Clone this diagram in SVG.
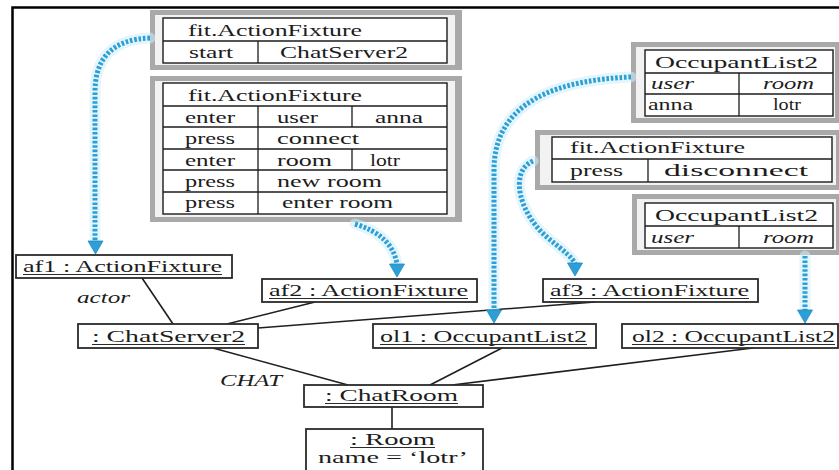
<svg xmlns="http://www.w3.org/2000/svg" width="839" height="470" viewBox="0 0 839 470" font-family="'Liberation Serif', 'Times New Roman', serif">
  <style>
    text { font-family: "Liberation Serif", "Times New Roman", serif; font-size: 16px; fill: #1c1c1c; }
    .it { font-style: italic; }
    .frame-out { fill: #a9a9a9; }
    .frame-in { fill: #f2f2f2; }
    .tbl { fill: #ffffff; stroke: #1c1c1c; stroke-width: 1.4; }
    .cell { stroke: #1c1c1c; stroke-width: 1.3; fill: none; }
    .obj { fill: #ffffff; stroke: #2a2a2a; stroke-width: 1.8; }
    .ul { stroke: #2a2a2a; stroke-width: 1; }
    .link { stroke: #1f1f1f; stroke-width: 1.6; fill: none; }
    .halo { stroke: #cdeef8; stroke-width: 11; fill: none; opacity: 0.55; stroke-linecap: round; }
    .dots { stroke: #2b9fd6; stroke-width: 5; fill: none; stroke-dasharray: 2.6 1.8; }
    .head { fill: #2b9fd6; stroke: #238cc0; stroke-width: 0.8; }
  </style>

  <rect width="839" height="470" fill="#ffffff"/>
  <!-- page border -->
  <path d="M12.5,470 V7.5 H839" fill="none" stroke="#000" stroke-width="2.5"/>

  <!-- fixture table: start ChatServer2 -->
  <g id="table-start">
    <rect class="frame-out" x="150" y="10" width="312" height="60"/>
    <rect class="frame-in" x="155" y="15" width="300" height="50"/>
    <rect class="tbl" x="163" y="18" width="284" height="45"/>
    <path class="cell" d="M163,41 H447 M258,41 V63"/>
    <text x="188" y="36" textLength="174" lengthAdjust="spacingAndGlyphs">fit.ActionFixture</text>
    <text x="189" y="58" textLength="44" lengthAdjust="spacingAndGlyphs">start</text>
    <text x="280" y="58" textLength="128" lengthAdjust="spacingAndGlyphs">ChatServer2</text>
  </g>

  <!-- fixture table: user session -->
  <g id="table-session">
    <rect class="frame-out" x="150" y="76" width="312" height="146"/>
    <rect class="frame-in" x="155" y="81" width="300" height="136"/>
    <rect class="tbl" x="163" y="83" width="284" height="131"/>
    <path class="cell" d="M163,106 H447 M163,127 H447 M163,149 H447 M163,170 H447 M163,192 H447 M258,106 V214 M352,106 V127 M352,149 V170"/>
    <text x="188" y="101" textLength="174" lengthAdjust="spacingAndGlyphs">fit.ActionFixture</text>
    <text x="185" y="123" textLength="50" lengthAdjust="spacingAndGlyphs">enter</text>
    <text x="277" y="123" textLength="41" lengthAdjust="spacingAndGlyphs">user</text>
    <text x="375" y="123" textLength="48" lengthAdjust="spacingAndGlyphs">anna</text>
    <text x="185" y="144" textLength="50" lengthAdjust="spacingAndGlyphs">press</text>
    <text x="277" y="144" textLength="82" lengthAdjust="spacingAndGlyphs">connect</text>
    <text x="185" y="166" textLength="50" lengthAdjust="spacingAndGlyphs">enter</text>
    <text x="277" y="166" textLength="55" lengthAdjust="spacingAndGlyphs">room</text>
    <text x="370" y="166" textLength="30" lengthAdjust="spacingAndGlyphs">lotr</text>
    <text x="185" y="187" textLength="50" lengthAdjust="spacingAndGlyphs">press</text>
    <text x="277" y="187" textLength="105" lengthAdjust="spacingAndGlyphs">new room</text>
    <text x="185" y="208" textLength="50" lengthAdjust="spacingAndGlyphs">press</text>
    <text x="282" y="208" textLength="111" lengthAdjust="spacingAndGlyphs">enter room</text>
  </g>

  <!-- occupant list: anna in lotr -->
  <g id="table-occupants-1">
    <rect class="frame-out" x="631" y="42" width="208" height="81"/>
    <rect class="frame-in" x="636" y="47" width="199" height="71"/>
    <rect class="tbl" x="645" y="50" width="188" height="66"/>
    <path class="cell" d="M645,73 H833 M645,94 H833 M739,73 V116"/>
    <text x="655" y="68" textLength="163" lengthAdjust="spacingAndGlyphs">OccupantList2</text>
    <text class="it" x="651" y="89" textLength="43" lengthAdjust="spacingAndGlyphs">user</text>
    <text class="it" x="763" y="89" textLength="51" lengthAdjust="spacingAndGlyphs">room</text>
    <text x="648" y="110" textLength="45" lengthAdjust="spacingAndGlyphs">anna</text>
    <text x="773" y="110" textLength="28" lengthAdjust="spacingAndGlyphs">lotr</text>
  </g>

  <!-- fixture table: disconnect -->
  <g id="table-disconnect">
    <rect class="frame-out" x="535" y="130" width="304" height="60"/>
    <rect class="frame-in" x="540" y="135" width="296" height="50"/>
    <rect class="tbl" x="552" y="137" width="280" height="45"/>
    <path class="cell" d="M552,159 H832 M648,159 V182"/>
    <text x="570" y="153" textLength="175" lengthAdjust="spacingAndGlyphs">fit.ActionFixture</text>
    <text x="570" y="176" textLength="53" lengthAdjust="spacingAndGlyphs">press</text>
    <text x="664" y="176" textLength="144" lengthAdjust="spacingAndGlyphs">disconnect</text>
  </g>

  <!-- occupant list: empty -->
  <g id="table-occupants-2">
    <rect class="frame-out" x="632" y="194" width="207" height="61"/>
    <rect class="frame-in" x="637" y="199" width="199" height="51"/>
    <rect class="tbl" x="645" y="203" width="188" height="45"/>
    <path class="cell" d="M645,226 H833 M739,226 V248"/>
    <text x="655" y="221" textLength="163" lengthAdjust="spacingAndGlyphs">OccupantList2</text>
    <text class="it" x="651" y="243" textLength="43" lengthAdjust="spacingAndGlyphs">user</text>
    <text class="it" x="763" y="243" textLength="51" lengthAdjust="spacingAndGlyphs">room</text>
  </g>

  <!-- associations and fixture arrows -->
  <g id="connectors">
    <path class="link" d="M142,278 L173,324"/>
    <path class="link" d="M315,302 L227,324"/>
    <path class="link" d="M595,302 L258,328"/>
    <path class="link" d="M213,348 L348,385"/>
    <path class="link" d="M502,348 L430,385"/>
    <path class="link" d="M753,348 L452,385"/>
    <path class="link" d="M392,407 V429"/>

    <g id="fixture-arrows">
      <path class="halo" d="M150,38 Q95,40 95,92 V242"/>
      <path class="halo" d="M355,224 Q392,235 397,264"/>
      <path class="halo" d="M631,77 C560,80 494,100 494,170 V310"/>
      <path class="halo" d="M533,161 C508,172 520,215 548,238 C565,252 573,258 575,264"/>
      <path class="halo" d="M805,256 V310"/>

      <path class="dots" d="M150,38 Q95,40 95,92 V242"/>
      <path class="dots" d="M355,224 Q392,235 397,264"/>
      <path class="dots" d="M631,77 C560,80 494,100 494,170 V310"/>
      <path class="dots" d="M533,161 C508,172 520,215 548,238 C565,252 573,258 575,264"/>
      <path class="dots" d="M805,256 V310"/>

      <path class="head" d="M88,241 L103,241 L95.5,254 Z"/>
      <path class="head" d="M389.5,264 L404.5,264 L397,277 Z"/>
      <path class="head" d="M486.5,310 L501.5,310 L494,323 Z"/>
      <path class="head" d="M567.5,263 L582.5,263 L575,276 Z"/>
      <path class="head" d="M797.5,310 L812.5,310 L805,323 Z"/>
    </g>
  </g>

  <!-- role labels -->
  <text class="it" x="77" y="303" textLength="53" lengthAdjust="spacingAndGlyphs">actor</text>
  <text class="it" x="220" y="386" textLength="62" lengthAdjust="spacingAndGlyphs">CHAT</text>

  <g id="af1">
    <rect class="obj" x="16" y="255" width="216" height="23"/>
    <text x="23" y="272" textLength="199" lengthAdjust="spacingAndGlyphs">af1 : ActionFixture</text>
    <line class="ul" x1="23" y1="274.5" x2="222" y2="274.5"/>
  </g>

  <g id="af2">
    <rect class="obj" x="262" y="279" width="215" height="23"/>
    <text x="269" y="296" textLength="199" lengthAdjust="spacingAndGlyphs">af2 : ActionFixture</text>
    <line class="ul" x1="269" y1="298.5" x2="468" y2="298.5"/>
  </g>

  <g id="af3">
    <rect class="obj" x="543" y="279" width="215" height="23"/>
    <text x="550" y="296" textLength="199" lengthAdjust="spacingAndGlyphs">af3 : ActionFixture</text>
    <line class="ul" x1="550" y1="298.5" x2="749" y2="298.5"/>
  </g>

  <g id="chatserver">
    <rect class="obj" x="78" y="324" width="180" height="24"/>
    <text x="92" y="342" textLength="153" lengthAdjust="spacingAndGlyphs">:  ChatServer2</text>
    <line class="ul" x1="92" y1="344.5" x2="245" y2="344.5"/>
  </g>

  <g id="ol1">
    <rect class="obj" x="373" y="324" width="223" height="24"/>
    <text x="380" y="342" textLength="207" lengthAdjust="spacingAndGlyphs">ol1 : OccupantList2</text>
    <line class="ul" x1="380" y1="344.5" x2="587" y2="344.5"/>
  </g>

  <g id="ol2">
    <rect class="obj" x="622" y="324" width="216" height="24"/>
    <text x="632" y="342" textLength="203" lengthAdjust="spacingAndGlyphs">ol2 : OccupantList2</text>
    <line class="ul" x1="632" y1="344.5" x2="835" y2="344.5"/>
  </g>

  <g id="chatroom">
    <rect class="obj" x="304" y="385" width="179" height="22"/>
    <text x="325" y="401" textLength="133" lengthAdjust="spacingAndGlyphs">:  ChatRoom</text>
    <line class="ul" x1="325" y1="403.5" x2="458" y2="403.5"/>
  </g>

  <g id="room">
    <rect class="obj" x="306" y="429" width="177" height="50"/>
    <text x="350" y="445" textLength="85" lengthAdjust="spacingAndGlyphs">:  Room</text>
    <line class="ul" x1="350" y1="447.5" x2="435" y2="447.5"/>
    <text x="318" y="463" textLength="150" lengthAdjust="spacingAndGlyphs">name = ‘lotr’</text>
  </g>
</svg>
